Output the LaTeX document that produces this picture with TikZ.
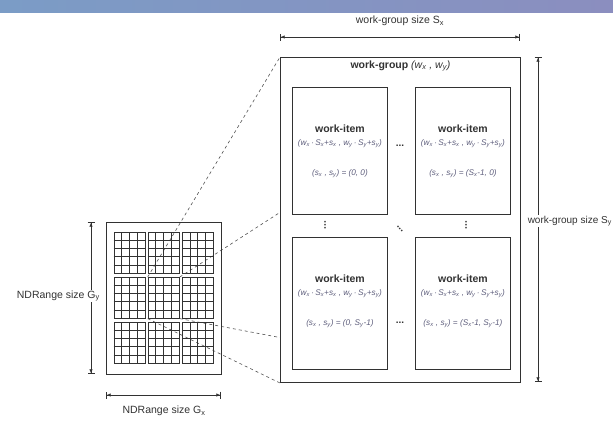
\documentclass[tikz,border=0pt]{standalone}
\usepackage{fontspec}
\setmainfont{Liberation Sans}
\usetikzlibrary{positioning}
\usetikzlibrary{arrows.meta}
\usetikzlibrary{backgrounds}
\definecolor{inkgray}{RGB}{50,50,50}
\definecolor{formulagray}{RGB}{95,95,125}
\definecolor{bandleft}{RGB}{123,156,198}
\definecolor{bandmid}{RGB}{110,166,194}
\definecolor{bandright}{RGB}{139,142,191}

\tikzset{
 wibox/.style={draw=inkgray, line width=0.8pt, minimum width=95pt, anchor=north west, inner sep=0pt},
 blkbox/.style={draw=inkgray, line width=0.6pt, minimum width=31.5pt, minimum height=41pt, anchor=north west, inner sep=0pt},
 dimarrow/.style={draw=inkgray, line width=0.7pt, arrows={Bar[width=7pt]Latex[length=4pt,width=3.5pt]}-{Latex[length=4pt,width=3.5pt]Bar[width=7pt]}},
 dimlabel/.style={font=\fontsize{10.5}{12}\selectfont, text=inkgray, inner sep=1pt},
 witem/.style={font=\fontsize{10.5}{12}\selectfont\bfseries, text=inkgray, inner sep=0pt},
 wiform/.style={font=\fontsize{8.2}{10}\selectfont\itshape, text=formulagray, inner sep=0pt},
 wdots/.style={font=\fontsize{10}{12}\selectfont\bfseries, text=inkgray, inner sep=0pt, text height=1.5pt, text depth=0pt},
 zoomline/.style={draw=inkgray!85, dashed, line width=0.6pt}
}

\begin{document}
\begin{tikzpicture}[x=1pt,y=-1pt]
\useasboundingbox (0,0) rectangle (613,421);

\fill[left color=bandleft, middle color=bandmid, right color=bandright] (0,0) rectangle (613,12);

\node[draw=inkgray, line width=0.7pt, minimum width=115pt, minimum height=152pt, anchor=north west, inner sep=0pt] (ndr) at (106,222) {};

\foreach \i in {0,1,2}
\foreach \j in {0,1,2}
{
\node[blkbox] (blk\i\j) at (113.5+34.2*\i, 232+45*\j) {};
\foreach \k in {1,2,3}
\draw[inkgray, line width=0.5pt] ([xshift=\k*7.875pt]blk\i\j.north west) -- ([xshift=\k*7.875pt]blk\i\j.south west);
\foreach \k in {1,...,4}
\draw[inkgray, line width=0.5pt] ([yshift=-\k*8.2pt]blk\i\j.north west) -- ([yshift=-\k*8.2pt]blk\i\j.north east);
}

\node[draw=inkgray, line width=1pt, fill=white, minimum width=240pt, minimum height=325pt, anchor=north west, inner sep=0pt] (wg) at (280,57) {};

\begin{scope}[on background layer]
\draw[zoomline] (blk11.north west) -- (wg.north west);
\draw[zoomline] (blk11.north east) -- (wg.north east);
\draw[zoomline] (blk11.south west) -- (wg.south west);
\draw[zoomline] (blk11.south east) -- (wg.south east);
\end{scope}

\node[dimlabel] (wgtitle) at ([yshift=-9pt]wg.north) {\textbf{work-group} \textit{(w\textsubscript{x} , w\textsubscript{y})}};

\node[wibox, minimum height=127pt] (wi11) at (292,87) {};
\node[wibox, minimum height=127pt] (wi21) at (415,87) {};
\node[wibox, minimum height=132pt] (wi12) at (292,237) {};
\node[wibox, minimum height=132pt] (wi22) at (415,237) {};

\foreach \b/\sv in {wi11/{0, 0}, wi21/{S\textsubscript{x}-1, 0}, wi12/{0, S\textsubscript{y}-1}, wi22/{S\textsubscript{x}-1, S\textsubscript{y}-1}}
{
\node[witem] (\b t) at ([yshift=-42pt]\b.north) {work-item};
\node[wiform] (\b f) at ([yshift=-57pt]\b.north) {(w\textsubscript{x}\,·\,S\textsubscript{x}+s\textsubscript{x} , w\textsubscript{y}\,·\,S\textsubscript{y}+s\textsubscript{y})};
\node[wiform] (\b s) at ([yshift=-87pt]\b.north) {(s\textsubscript{x} , s\textsubscript{y}) = (\sv)};
}

\node[wdots] (hdots1) at (400,146) {...};
\node[wdots] (hdots2) at (400,323) {...};
\node[wdots, rotate=90] (vdots1) at (325,225) {...};
\node[wdots, rotate=90] (vdots2) at (466,225) {...};
\node[wdots, rotate=-45] (ddots) at (400,229) {...};

\coordinate (sxl) at (280,37);
\coordinate (sxr) at (520,37);
\draw[dimarrow] (sxl) -- (sxr);
\node[dimlabel] (sxlabel) at (400,21) {work-group size S\textsubscript{x}};

\coordinate (syt) at (538,57);
\coordinate (syb) at (538,382);
\draw[dimarrow] (syt) -- (syb);
\node[dimlabel, font=\fontsize{10}{12}\selectfont, fill=white, inner sep=0.5pt, anchor=east] (sylabel) at (612.5,221) {work-group size S\textsubscript{y}};

\coordinate (gyt) at (91,222);
\coordinate (gyb) at (91,374);
\draw[dimarrow] (gyt) -- (gyb);
\node[dimlabel, fill=white, anchor=east] (gylabel) at (101,296) {NDRange size G\textsubscript{y}};

\coordinate (gxl) at (106,395);
\coordinate (gxr) at (221,395);
\draw[dimarrow] (gxl) -- (gxr);
\node[dimlabel] (gxlabel) at (164,411) {NDRange size G\textsubscript{x}};

\end{tikzpicture}
\end{document}
